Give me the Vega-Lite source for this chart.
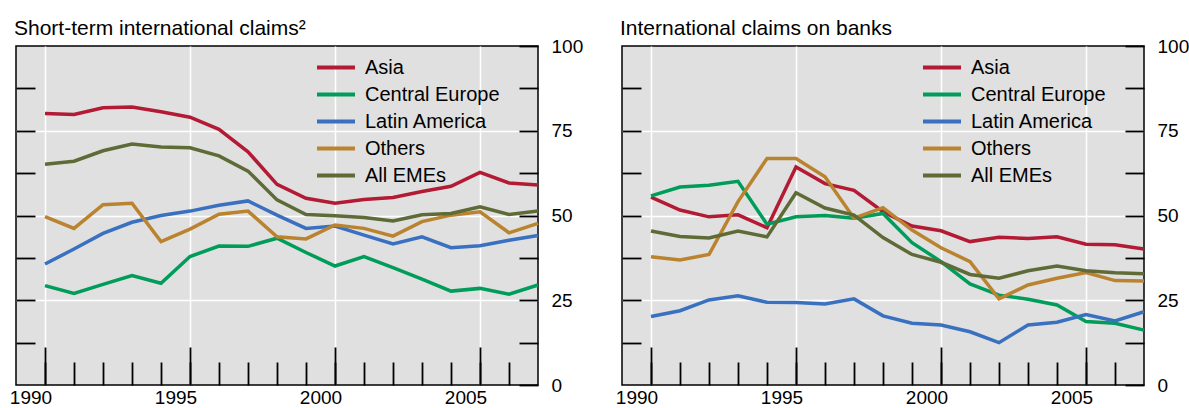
{
  "$schema": "https://vega.github.io/schema/vega-lite/v6.json",
  "padding": {"left": 8, "top": 17, "right": 5, "bottom": 0},
  "bounds": "flush",
  "spacing": 84,
  "datasets": {
    "left": [
      {"s":"Asia","x":1990,"v":80.1},{"s":"Asia","x":1991,"v":79.8},{"s":"Asia","x":1992,"v":81.8},{"s":"Asia","x":1993,"v":82.0},{"s":"Asia","x":1994,"v":80.6},{"s":"Asia","x":1995,"v":79.0},{"s":"Asia","x":1996,"v":75.4},{"s":"Asia","x":1997,"v":68.8},{"s":"Asia","x":1998,"v":59.2},{"s":"Asia","x":1999,"v":55.1},{"s":"Asia","x":2000,"v":53.6},{"s":"Asia","x":2001,"v":54.7},{"s":"Asia","x":2002,"v":55.3},{"s":"Asia","x":2003,"v":57.1},{"s":"Asia","x":2004,"v":58.6},{"s":"Asia","x":2005,"v":62.7},{"s":"Asia","x":2006,"v":59.6},{"s":"Asia","x":2007,"v":59.0},
      {"s":"Central Europe","x":1990,"v":29.3},{"s":"Central Europe","x":1991,"v":27.0},{"s":"Central Europe","x":1992,"v":29.7},{"s":"Central Europe","x":1993,"v":32.3},{"s":"Central Europe","x":1994,"v":30.0},{"s":"Central Europe","x":1995,"v":37.9},{"s":"Central Europe","x":1996,"v":41.0},{"s":"Central Europe","x":1997,"v":40.9},{"s":"Central Europe","x":1998,"v":43.3},{"s":"Central Europe","x":1999,"v":39.1},{"s":"Central Europe","x":2000,"v":35.1},{"s":"Central Europe","x":2001,"v":37.9},{"s":"Central Europe","x":2002,"v":34.6},{"s":"Central Europe","x":2003,"v":31.2},{"s":"Central Europe","x":2004,"v":27.7},{"s":"Central Europe","x":2005,"v":28.5},{"s":"Central Europe","x":2006,"v":26.8},{"s":"Central Europe","x":2007,"v":29.5},
      {"s":"Latin America","x":1990,"v":35.7},{"s":"Latin America","x":1991,"v":40.1},{"s":"Latin America","x":1992,"v":44.7},{"s":"Latin America","x":1993,"v":48.0},{"s":"Latin America","x":1994,"v":50.0},{"s":"Latin America","x":1995,"v":51.3},{"s":"Latin America","x":1996,"v":53.0},{"s":"Latin America","x":1997,"v":54.3},{"s":"Latin America","x":1998,"v":50.1},{"s":"Latin America","x":1999,"v":46.2},{"s":"Latin America","x":2000,"v":46.9},{"s":"Latin America","x":2001,"v":44.2},{"s":"Latin America","x":2002,"v":41.6},{"s":"Latin America","x":2003,"v":43.7},{"s":"Latin America","x":2004,"v":40.5},{"s":"Latin America","x":2005,"v":41.1},{"s":"Latin America","x":2006,"v":42.7},{"s":"Latin America","x":2007,"v":44.1},
      {"s":"Others","x":1990,"v":49.7},{"s":"Others","x":1991,"v":46.2},{"s":"Others","x":1992,"v":53.2},{"s":"Others","x":1993,"v":53.6},{"s":"Others","x":1994,"v":42.3},{"s":"Others","x":1995,"v":46.0},{"s":"Others","x":1996,"v":50.4},{"s":"Others","x":1997,"v":51.3},{"s":"Others","x":1998,"v":43.7},{"s":"Others","x":1999,"v":43.1},{"s":"Others","x":2000,"v":47.2},{"s":"Others","x":2001,"v":46.2},{"s":"Others","x":2002,"v":43.9},{"s":"Others","x":2003,"v":48.2},{"s":"Others","x":2004,"v":50.1},{"s":"Others","x":2005,"v":51.1},{"s":"Others","x":2006,"v":44.9},{"s":"Others","x":2007,"v":47.7},
      {"s":"All EMEs","x":1990,"v":65.1},{"s":"All EMEs","x":1991,"v":66.0},{"s":"All EMEs","x":1992,"v":69.1},{"s":"All EMEs","x":1993,"v":71.1},{"s":"All EMEs","x":1994,"v":70.2},{"s":"All EMEs","x":1995,"v":70.0},{"s":"All EMEs","x":1996,"v":67.6},{"s":"All EMEs","x":1997,"v":63.1},{"s":"All EMEs","x":1998,"v":54.6},{"s":"All EMEs","x":1999,"v":50.3},{"s":"All EMEs","x":2000,"v":49.9},{"s":"All EMEs","x":2001,"v":49.4},{"s":"All EMEs","x":2002,"v":48.4},{"s":"All EMEs","x":2003,"v":50.2},{"s":"All EMEs","x":2004,"v":50.6},{"s":"All EMEs","x":2005,"v":52.6},{"s":"All EMEs","x":2006,"v":50.3},{"s":"All EMEs","x":2007,"v":51.3}
    ],
    "right": [
      {"s":"Asia","x":1990,"v":55.4},{"s":"Asia","x":1991,"v":51.6},{"s":"Asia","x":1992,"v":49.6},{"s":"Asia","x":1993,"v":50.2},{"s":"Asia","x":1994,"v":46.4},{"s":"Asia","x":1995,"v":64.3},{"s":"Asia","x":1996,"v":59.4},{"s":"Asia","x":1997,"v":57.4},{"s":"Asia","x":1998,"v":51.1},{"s":"Asia","x":1999,"v":46.9},{"s":"Asia","x":2000,"v":45.5},{"s":"Asia","x":2001,"v":42.3},{"s":"Asia","x":2002,"v":43.6},{"s":"Asia","x":2003,"v":43.2},{"s":"Asia","x":2004,"v":43.7},{"s":"Asia","x":2005,"v":41.5},{"s":"Asia","x":2006,"v":41.4},{"s":"Asia","x":2007,"v":40.1},
      {"s":"Central Europe","x":1990,"v":55.8},{"s":"Central Europe","x":1991,"v":58.4},{"s":"Central Europe","x":1992,"v":58.9},{"s":"Central Europe","x":1993,"v":60.1},{"s":"Central Europe","x":1994,"v":47.4},{"s":"Central Europe","x":1995,"v":49.6},{"s":"Central Europe","x":1996,"v":50.0},{"s":"Central Europe","x":1997,"v":49.2},{"s":"Central Europe","x":1998,"v":50.6},{"s":"Central Europe","x":1999,"v":42.0},{"s":"Central Europe","x":2000,"v":36.4},{"s":"Central Europe","x":2001,"v":29.8},{"s":"Central Europe","x":2002,"v":26.5},{"s":"Central Europe","x":2003,"v":25.3},{"s":"Central Europe","x":2004,"v":23.6},{"s":"Central Europe","x":2005,"v":18.7},{"s":"Central Europe","x":2006,"v":18.2},{"s":"Central Europe","x":2007,"v":16.2},
      {"s":"Latin America","x":1990,"v":20.2},{"s":"Latin America","x":1991,"v":21.9},{"s":"Latin America","x":1992,"v":25.1},{"s":"Latin America","x":1993,"v":26.3},{"s":"Latin America","x":1994,"v":24.4},{"s":"Latin America","x":1995,"v":24.3},{"s":"Latin America","x":1996,"v":23.9},{"s":"Latin America","x":1997,"v":25.4},{"s":"Latin America","x":1998,"v":20.4},{"s":"Latin America","x":1999,"v":18.2},{"s":"Latin America","x":2000,"v":17.7},{"s":"Latin America","x":2001,"v":15.7},{"s":"Latin America","x":2002,"v":12.5},{"s":"Latin America","x":2003,"v":17.7},{"s":"Latin America","x":2004,"v":18.5},{"s":"Latin America","x":2005,"v":20.8},{"s":"Latin America","x":2006,"v":18.9},{"s":"Latin America","x":2007,"v":21.6},
      {"s":"Others","x":1990,"v":37.8},{"s":"Others","x":1991,"v":36.9},{"s":"Others","x":1992,"v":38.5},{"s":"Others","x":1993,"v":54.1},{"s":"Others","x":1994,"v":66.8},{"s":"Others","x":1995,"v":66.8},{"s":"Others","x":1996,"v":61.4},{"s":"Others","x":1997,"v":49.2},{"s":"Others","x":1998,"v":52.3},{"s":"Others","x":1999,"v":45.7},{"s":"Others","x":2000,"v":40.5},{"s":"Others","x":2001,"v":36.4},{"s":"Others","x":2002,"v":25.4},{"s":"Others","x":2003,"v":29.5},{"s":"Others","x":2004,"v":31.5},{"s":"Others","x":2005,"v":33.2},{"s":"Others","x":2006,"v":30.8},{"s":"Others","x":2007,"v":30.7},
      {"s":"All EMEs","x":1990,"v":45.4},{"s":"All EMEs","x":1991,"v":43.8},{"s":"All EMEs","x":1992,"v":43.4},{"s":"All EMEs","x":1993,"v":45.4},{"s":"All EMEs","x":1994,"v":43.7},{"s":"All EMEs","x":1995,"v":56.7},{"s":"All EMEs","x":1996,"v":52.2},{"s":"All EMEs","x":1997,"v":50.1},{"s":"All EMEs","x":1998,"v":43.5},{"s":"All EMEs","x":1999,"v":38.5},{"s":"All EMEs","x":2000,"v":36.2},{"s":"All EMEs","x":2001,"v":32.6},{"s":"All EMEs","x":2002,"v":31.5},{"s":"All EMEs","x":2003,"v":33.7},{"s":"All EMEs","x":2004,"v":35.1},{"s":"All EMEs","x":2005,"v":33.7},{"s":"All EMEs","x":2006,"v":33.1},{"s":"All EMEs","x":2007,"v":32.8}
    ]
  },
  "config": {
    "font": "Liberation Sans",
    "background": "white",
    "view": {"fill": "#e0e0e0", "stroke": "black", "strokeWidth": 1.5},
    "axis": {"domain": false, "labelFont": "Liberation Sans", "labelFontSize": 19, "labelColor": "black", "tickColor": "black", "tickWidth": 1.8, "title": null, "gridColor": "white", "gridWidth": 1.5},
    "title": {"font": "Liberation Sans", "fontSize": 21, "fontWeight": "normal", "color": "black", "anchor": "start", "frame": "group"},
    "legend": {"orient": "none", "title": null, "padding": 0, "labelFont": "Liberation Sans", "labelFontSize": 20, "labelColor": "black", "symbolType": "M-2,0H2", "symbolSize": 361, "symbolStrokeWidth": 4, "labelOffset": 17.5, "rowPadding": 5, "legendX": 308.5, "legendY": 10}
  },
  "resolve": {"scale": {"color": "independent"}, "legend": {"color": "independent"}},
  "hconcat": [
    {
      "title": {"text": "Short-term international claims²", "dx": -2, "offset": -2},
      "width": 522, "height": 339,
      "data": {"name": "left"},
      "resolve": {"axis": {"x": "independent", "y": "independent"}},
      "layer": [
        {
          "mark": {"type": "point", "opacity": 0},
          "encoding": {
            "x": {"field": "x", "type": "quantitative", "scale": {"domain": [1989, 2007], "nice": false, "zero": false},
                  "axis": {"orient": "bottom", "values": [1990,1991,1992,1993,1994,1995,1996,1997,1998,1999,2000,2001,2002,2003,2004,2005,2006], "tickSize": -23, "labels": false, "grid": false}},
            "y": {"field": "v", "type": "quantitative", "scale": {"domain": [0, 100], "nice": false},
                  "axis": {"orient": "left", "values": [12.5,25,37.5,50,62.5,75,87.5], "tickSize": -19, "labels": false, "grid": false}}
          }
        },
        {
          "mark": {"type": "line", "strokeWidth": 3.5},
          "encoding": {
            "x": {"field": "x", "type": "quantitative", "scale": {"domain": [1989, 2007], "nice": false, "zero": false},
                  "axis": {"orient": "bottom", "values": [1990,1995,2000,2005], "format": "d", "tickSize": -38, "labelPadding": 41, "labelOffset": -14.5, "labelFlush": false, "grid": true}},
            "y": {"field": "v", "type": "quantitative", "scale": {"domain": [0, 100], "nice": false},
                  "axis": {"orient": "right", "values": [0,12.5,25,37.5,50,62.5,75,87.5,100], "tickSize": -19, "labelPadding": 32, "labelAlign": "left", "labelExpr": "datum.value % 25 == 0 ? datum.label : ''", "grid": true, "gridOpacity": {"condition": {"test": "datum.value % 25 != 0 || datum.value == 0 || datum.value == 100", "value": 0}, "value": 1}}},
            "color": {"field": "s", "type": "nominal", "sort": ["Asia","Central Europe","Latin America","Others","All EMEs"],
                      "scale": {"domain": ["Asia","Central Europe","Latin America","Others","All EMEs"], "range": ["#b31b34","#009c5a","#3a70c0","#b9832f","#5e6b37"]}}
          }
        }
      ]
    },
    {
      "title": {"text": "International claims on banks", "dx": -2, "offset": -2},
      "width": 522, "height": 339,
      "data": {"name": "right"},
      "resolve": {"axis": {"x": "independent", "y": "independent"}},
      "layer": [
        {
          "mark": {"type": "point", "opacity": 0},
          "encoding": {
            "x": {"field": "x", "type": "quantitative", "scale": {"domain": [1989, 2007], "nice": false, "zero": false},
                  "axis": {"orient": "bottom", "values": [1990,1991,1992,1993,1994,1995,1996,1997,1998,1999,2000,2001,2002,2003,2004,2005,2006], "tickSize": -23, "labels": false, "grid": false}},
            "y": {"field": "v", "type": "quantitative", "scale": {"domain": [0, 100], "nice": false},
                  "axis": {"orient": "left", "values": [12.5,25,37.5,50,62.5,75,87.5], "tickSize": -19, "labels": false, "grid": false}}
          }
        },
        {
          "mark": {"type": "line", "strokeWidth": 3.5},
          "encoding": {
            "x": {"field": "x", "type": "quantitative", "scale": {"domain": [1989, 2007], "nice": false, "zero": false},
                  "axis": {"orient": "bottom", "values": [1990,1995,2000,2005], "format": "d", "tickSize": -38, "labelPadding": 41, "labelOffset": -14.5, "labelFlush": false, "grid": true}},
            "y": {"field": "v", "type": "quantitative", "scale": {"domain": [0, 100], "nice": false},
                  "axis": {"orient": "right", "values": [0,12.5,25,37.5,50,62.5,75,87.5,100], "tickSize": -19, "labelPadding": 32, "labelAlign": "left", "labelExpr": "datum.value % 25 == 0 ? datum.label : ''", "grid": true, "gridOpacity": {"condition": {"test": "datum.value % 25 != 0 || datum.value == 0 || datum.value == 100", "value": 0}, "value": 1}}},
            "color": {"field": "s", "type": "nominal", "sort": ["Asia","Central Europe","Latin America","Others","All EMEs"],
                      "scale": {"domain": ["Asia","Central Europe","Latin America","Others","All EMEs"], "range": ["#b31b34","#009c5a","#3a70c0","#b9832f","#5e6b37"]}}
          }
        }
      ]
    }
  ]
}
